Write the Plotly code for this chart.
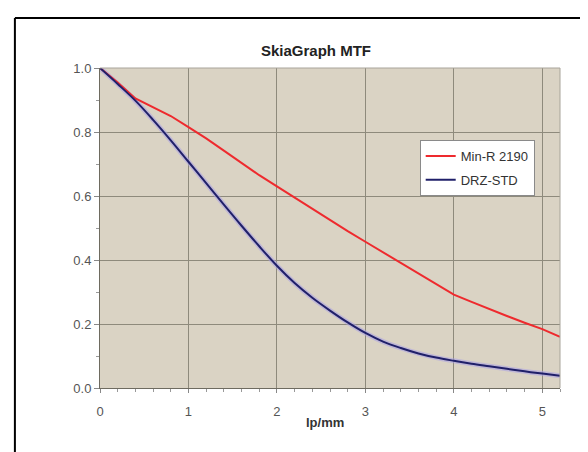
import plotly.graph_objects as go

lp_mm = [0.0, 0.2, 0.4, 0.6, 0.8, 1.0, 1.2, 1.4, 1.6, 1.8, 2.0, 2.2, 2.4, 2.6,
         2.8, 3.0, 3.2, 3.4, 3.6, 3.8, 4.0, 4.2, 4.4, 4.6, 4.8, 5.0, 5.2]
min_r_2190 = [1.000, 0.955, 0.905, 0.878, 0.850, 0.815, 0.780, 0.742, 0.703,
              0.665, 0.630, 0.595, 0.560, 0.524, 0.490, 0.457, 0.424, 0.390,
              0.356, 0.323, 0.292, 0.269, 0.246, 0.225, 0.204, 0.184, 0.160]
drz_std = [1.000, 0.950, 0.898, 0.838, 0.774, 0.707, 0.640, 0.573, 0.507,
           0.443, 0.382, 0.328, 0.282, 0.242, 0.205, 0.172, 0.145, 0.125,
           0.108, 0.095, 0.085, 0.076, 0.068, 0.060, 0.052, 0.045, 0.038]
x_ticks = [0, 1, 2, 3, 4, 5]
y_ticks = [0.0, 0.2, 0.4, 0.6, 0.8, 1.0]
y_tick_labels = ["0.0", "0.2", "0.4", "0.6", "0.8", "1.0"]

FONT = "Liberation Sans, Arial, sans-serif"

fig = go.Figure()
# faint halo under the blue curve
fig.add_trace(go.Scatter(x=lp_mm, y=drz_std, mode="lines",
                         line=dict(color="rgba(170,160,230,0.55)", width=5, shape="spline"),
                         showlegend=False, hoverinfo="skip"))
fig.add_trace(go.Scatter(x=lp_mm, y=min_r_2190, mode="lines", name="Min-R 2190",
                         legendgroup="a",
                         line=dict(color="#EE2A2E", width=2)))
fig.add_trace(go.Scatter(x=lp_mm, y=drz_std, mode="lines", name="DRZ-STD",
                         legendgroup="b",
                         line=dict(color="#20206A", width=2, shape="spline")))

fig.update_layout(
    width=588, height=452,
    margin=dict(l=92, r=36, t=60, b=72),
    paper_bgcolor="white",
    plot_bgcolor="#DAD3C4",
    font=dict(family=FONT, size=13, color="#555555"),
    showlegend=True,
    legend=dict(x=0.695, y=0.775, xanchor="left", yanchor="top",
                bgcolor="white", bordercolor="#8A8A8A", borderwidth=1,
                font=dict(family=FONT, size=13, color="#333333"),
                tracegroupgap=4, itemwidth=30),
    xaxis=dict(range=[0, 5.2], tickvals=x_ticks, showgrid=True,
               gridcolor="#8E8A7C", gridwidth=1, zeroline=False,
               showline=True, linecolor="#6E6B60", linewidth=1, mirror=False,
               ticks="outside", ticklen=4, tickcolor="#888888",
               ticklabelstandoff=7,
               minor=dict(dtick=0.2, ticks="outside", ticklen=3, tickcolor="#999999",
                          showgrid=False),
               tickfont=dict(family=FONT, size=13, color="#555555"),
               fixedrange=True),
    yaxis=dict(range=[0, 1.0], tickvals=y_ticks, ticktext=y_tick_labels,
               showgrid=True, gridcolor="#8E8A7C", gridwidth=1, zeroline=False,
               showline=True, linecolor="#6E6B60", linewidth=1,
               ticks="outside", ticklen=5, tickcolor="#888888",
               minor=dict(dtick=0.1, ticks="outside", ticklen=3, tickcolor="#999999",
                          showgrid=False),
               tickfont=dict(family=FONT, size=13, color="#555555"),
               fixedrange=True),
    annotations=[
        dict(text="<b>SkiaGraph MTF</b>", x=0.469, y=1.056, xref="paper", yref="paper",
             xanchor="center", yanchor="middle",
             showarrow=False, font=dict(family=FONT, size=15, color="#222222")),
        dict(text="<b>lp/mm</b>", x=0.489, y=-0.109, xref="paper", yref="paper",
             xanchor="center", yanchor="middle",
             showarrow=False, font=dict(family=FONT, size=13, color="#333333")),
    ],
    shapes=[
        # outer frame (top and left)
        dict(type="line", xref="paper", yref="paper", x0=-0.185, x1=1.08,
             y0=1.156, y1=1.156, line=dict(color="black", width=2)),
        dict(type="line", xref="paper", yref="paper", x0=-0.185, x1=-0.185,
             y0=1.156, y1=-0.23, line=dict(color="black", width=2)),
        # light plot border (top and right)
        dict(type="line", xref="paper", yref="paper", x0=0, x1=1, y0=1, y1=1,
             line=dict(color="#A8A49A", width=1)),
        dict(type="line", xref="paper", yref="paper", x0=1, x1=1, y0=0, y1=1,
             line=dict(color="#A8A49A", width=1)),
    ],
)

fig.write_html("out.html")
